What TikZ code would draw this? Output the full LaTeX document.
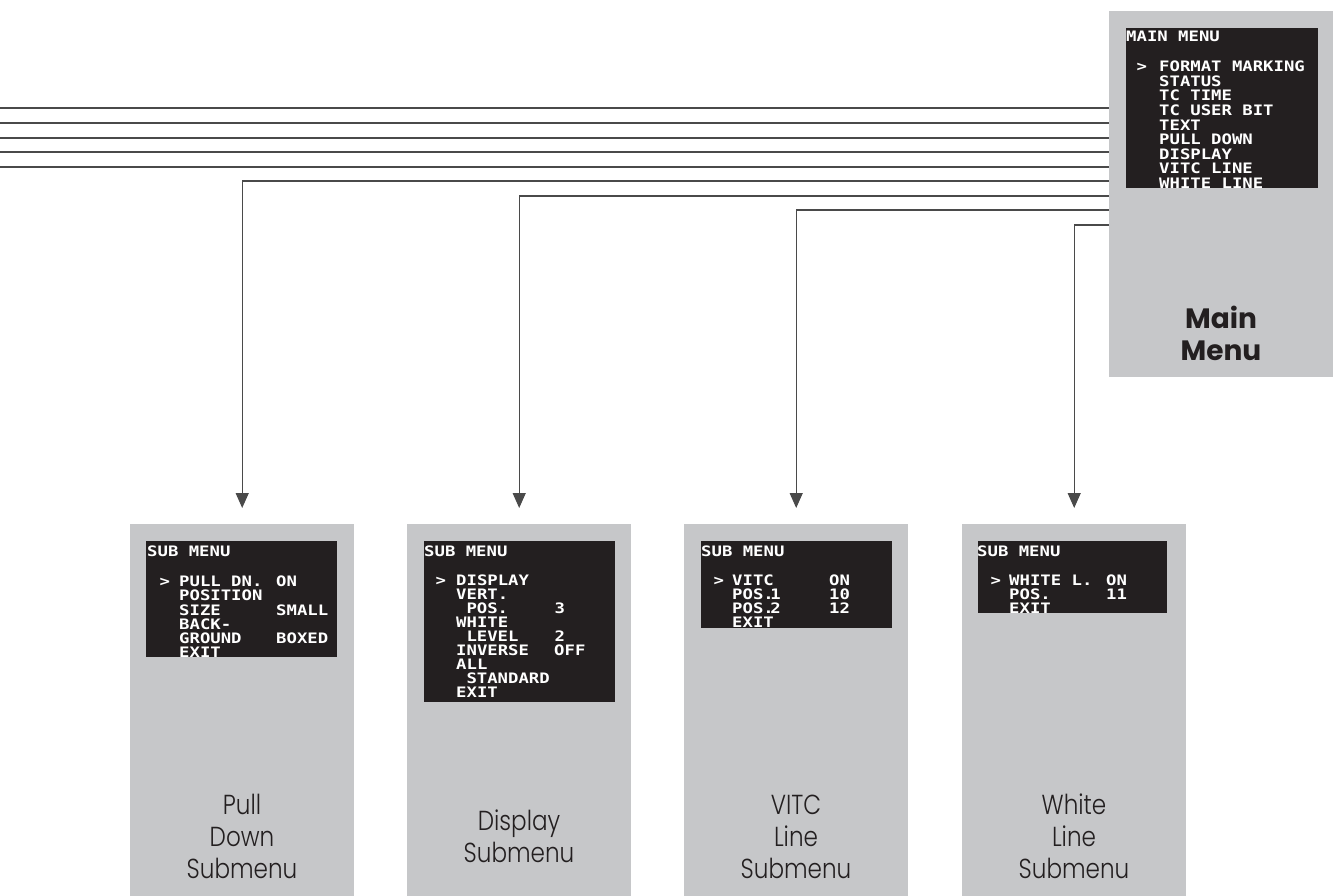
\documentclass[tikz,border=0pt]{standalone}
\usepackage{fontspec}
\usetikzlibrary{arrows.meta}
\newfontfamily\lcdfont{DejaVu Sans Mono Bold}[FakeStretch=1.2]
\newfontfamily\lblfont{Poppins Light}[FakeStretch=0.84]
\newfontfamily\boldlblfont{Poppins}
\definecolor{panelgray}{HTML}{C6C7C9}
\definecolor{screenblack}{HTML}{231F20}
\definecolor{wiregray}{HTML}{4A4A4A}
\definecolor{inkblack}{HTML}{231F20}
\begin{document}
\begin{tikzpicture}[x=1pt,y=-1pt,
  panel/.style={fill=panelgray, draw=none, anchor=north west, minimum width=224pt, inner sep=0pt},
  screenbox/.style={fill=screenblack, draw=none, anchor=north west, inner sep=0pt},
  lcd/.style={anchor=base west, inner sep=0pt, text=white, font=\lcdfont\fontsize{14.4}{15}\selectfont},
  lbl/.style={anchor=base, inner sep=0pt, text=inkblack, font=\lblfont\fontsize{27.5}{32}\selectfont},
  mlbl/.style={anchor=base, inner sep=0pt, text=inkblack, font=\boldlblfont\bfseries\fontsize{28}{32}\selectfont},
  wire/.style={draw=wiregray, line width=1.3pt},
  arr/.style={wire, -{Triangle[length=15pt,width=13pt]}, shorten >=16pt}
]
\useasboundingbox (0,0) rectangle (1333,896);

% panels
\node[panel, minimum height=366pt] (main) at (1109,11) {};
\node[panel, minimum height=372pt] (p1) at (130,524) {};
\node[panel, minimum height=372pt] (p2) at (407,524) {};
\node[panel, minimum height=372pt] (p3) at (684,524) {};
\node[panel, minimum height=372pt] (p4) at (962,524) {};

% screens
\node[screenbox, minimum width=192pt, minimum height=160pt] (ms) at (1126,28) {};
\node[screenbox, minimum width=191pt, minimum height=116pt] (s1) at (146,541) {};
\node[screenbox, minimum width=191pt, minimum height=161pt] (s2) at (424,541) {};
\node[screenbox, minimum width=191pt, minimum height=87pt] (s3) at (701,541) {};
\node[screenbox, minimum width=189pt, minimum height=72pt] (s4) at (978,541) {};

% main menu text
\begin{scope}
\clip (ms.north west) rectangle (ms.south east);
\node[lcd] (mh) at (1126,41.7) {MAIN MENU};
\node[lcd] (mp) at (1136.5,71.7) {>};
\foreach \t [count=\i from 0] in {FORMAT MARKING,STATUS,TC TIME,TC USER BIT,TEXT,PULL DOWN,DISPLAY,VITC LINE,WHITE LINE}
  \node[lcd] (m\i) at (1159,71.7+14.6*\i) {\t};
\end{scope}

% pull down submenu text
\begin{scope}
\clip (s1.north west) rectangle (s1.south east);
\node[lcd] (ah) at (147,556.7) {SUB MENU};
\node[lcd] (ap) at (159.5,586.7) {>};
\foreach \t [count=\i from 0] in {PULL DN.,POSITION,SIZE,BACK-,GROUND,EXIT}
  \node[lcd] (a\i) at (179,586.7+14.2*\i) {\t};
\node[lcd] (av0) at (276,586.7) {ON};
\node[lcd] (av2) at (276,586.7+14.2*2) {SMALL};
\node[lcd] (av4) at (276,586.7+14.2*4) {BOXED};
\end{scope}

% display submenu text
\begin{scope}
\clip (s2.north west) rectangle (s2.south east);
\node[lcd] (bh) at (424,556.7) {SUB MENU};
\node[lcd] (bp) at (435.5,585) {>};
\foreach \t/\i in {DISPLAY/0,VERT./1,WHITE/3,INVERSE/5,ALL/6,EXIT/8}
  \node[lcd] (b\i) at (456,585+14.1*\i) {\t};
\foreach \t/\i in {POS./2,LEVEL/4,STANDARD/7}
  \node[lcd] (b\i) at (466.3,585+14.1*\i) {\t};
\node[lcd] (bv2) at (554.5,585+14.1*2) {3};
\node[lcd] (bv4) at (554.5,585+14.1*4) {2};
\node[lcd] (bv5) at (554,585+14.1*5) {OFF};
\end{scope}

% VITC submenu text
\begin{scope}
\clip (s3.north west) rectangle (s3.south east);
\node[lcd] (ch) at (701,556.7) {SUB MENU};
\node[lcd] (cp) at (713.5,585) {>};
\node[lcd] (c0) at (732,585) {VITC};
\node[lcd] (c1) at (732,585+14.2) {POS.\kern-3.5pt1};
\node[lcd] (c2) at (732,585+14.2*2) {POS.\kern-3.5pt2};
\node[lcd] (c3) at (732,585+14.2*3) {EXIT};
\node[lcd] (cv0) at (829,585) {ON};
\node[lcd] (cv1) at (829,585+14.2) {10};
\node[lcd] (cv2) at (829,585+14.2*2) {12};
\end{scope}

% white line submenu text
\begin{scope}
\clip (s4.north west) rectangle (s4.south east);
\node[lcd] (dh) at (977,556.7) {SUB MENU};
\node[lcd] (dp) at (990.5,585) {>};
\node[lcd] (d0) at (1009,585) {WHITE L.};
\node[lcd] (d1) at (1009,585+14.2) {POS.};
\node[lcd] (d2) at (1009,585+14.2*2) {EXIT};
\node[lcd] (dv0) at (1106,585) {ON};
\node[lcd] (dv1) at (1106,585+14.2) {11};
\end{scope}

% labels
\node[mlbl] (ml1) at (1221,328.3) {Main};
\node[mlbl] (ml2) at (1221,360) {Menu};
\node[lbl] (l11) at (242,814.3) {Pull};
\node[lbl] (l12) at (242,846.5) {Down};
\node[lbl] (l13) at (242,878.7) {Submenu};
\node[lbl] (l21) at (519,830) {Display};
\node[lbl] (l22) at (519,862) {Submenu};
\node[lbl] (l31) at (796,814.3) {VITC};
\node[lbl] (l32) at (796,846.5) {Line};
\node[lbl] (l33) at (796,878.7) {Submenu};
\node[lbl] (l41) at (1074,814.3) {White};
\node[lbl] (l42) at (1074,846.5) {Line};
\node[lbl] (l43) at (1074,878.7) {Submenu};

% wires leaving to the left
\foreach \y [count=\i] in {108,123,138,152,167} {
  \coordinate (w\i) at (0,\y);
  \draw[wire] (w\i) -- (w\i -| main.west);
}
% arrows to submenus
\draw[arr] (main.west |- 0,181) -| (p1.north);
\draw[arr] (main.west |- 0,196) -| (p2.north);
\draw[arr] (main.west |- 0,210) -| (p3.north);
\draw[arr] (main.west |- 0,225) -| (p4.north);
\end{tikzpicture}
\end{document}
